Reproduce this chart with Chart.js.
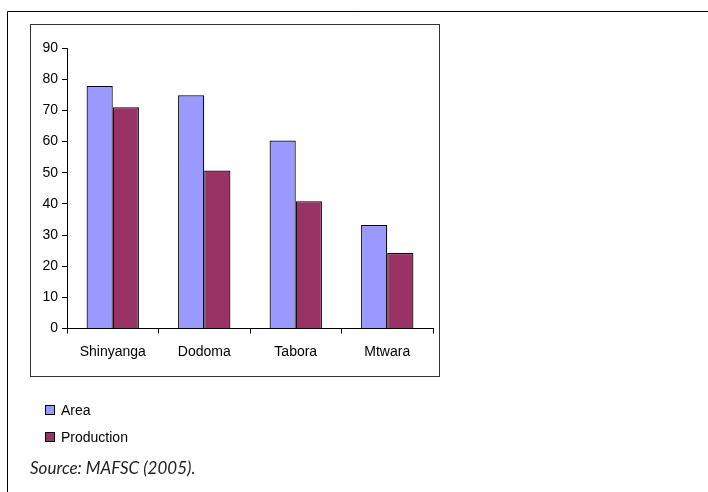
<!DOCTYPE html>
<html>
<head>
<meta charset="utf-8">
<script src="https://cdn.jsdelivr.net/npm/chart.js@4"></script>
<style>
  html, body { margin: 0; padding: 0; background: #fff; }
  #wrap { position: relative; width: 708px; height: 492px; }
  canvas { position: absolute; left: 0; top: 0; }
  .leg { position: absolute; left: 45px; font: 14px "Liberation Sans", Arial, sans-serif; color: #000; }
  .leg span { display: inline-block; width: 8px; height: 8px; border: 1px solid #000; margin-right: 6px; }
  #source { position: absolute; left: 30px; top: 457px; font: italic 17px "Lato", sans-serif; color: #222; }
</style>
</head>
<body>
<div id="wrap">
  <canvas id="chart" width="708" height="492"></canvas>
  <div class="leg" style="top:402px"><span style="background:#9999FF"></span>Area</div>
  <div class="leg" style="top:429px"><span style="background:#993366"></span>Production</div>
  <div id="source">Source: MAFSC (2005).</div>
</div>
<script>
const regions = ['Shinyanga', 'Dodoma', 'Tabora', 'Mtwara'];
const areaValues = [77.8, 74.8, 60.3, 33.2];
const productionValues = [71, 50.7, 40.8, 24.2];
const yTicks = [0, 10, 20, 30, 40, 50, 60, 70, 80, 90];

// frames around the plot and the figure
const frames = {
  id: 'frames',
  beforeDraw: (chart) => {
    const ctx = chart.ctx;
    ctx.save();
    ctx.strokeStyle = '#000';
    ctx.lineWidth = 1;
    // outer figure frame (top and left only)
    ctx.beginPath();
    ctx.moveTo(7.5, 492);
    ctx.lineTo(7.5, 11.5);
    ctx.lineTo(708, 11.5);
    ctx.stroke();
    // chart box
    ctx.strokeStyle = '#333';
    ctx.strokeRect(30.5, 24.5, 409, 352);
    ctx.restore();
  }
};

new Chart(document.getElementById('chart'), {
  type: 'bar',
  data: {
    labels: regions,
    datasets: [
      { label: 'Area', data: areaValues, backgroundColor: '#9999FF', borderColor: '#000', borderWidth: 1.2 },
      { label: 'Production', data: productionValues, backgroundColor: '#993366', borderColor: '#000', borderWidth: 1.2 }
    ]
  },
  options: {
    responsive: false,
    animation: false,
    layout: { padding: { left: 0, top: 48, right: 275, bottom: 0 } },
    datasets: { bar: { categoryPercentage: 0.572, barPercentage: 1 } },
    plugins: { legend: { display: false }, tooltip: { enabled: false } },
    scales: {
      x: {
        grid: { display: true, drawOnChartArea: false, offset: true, tickLength: 5, color: '#000' },
        border: { color: '#000' },
        ticks: { color: '#000', padding: 10, font: { family: '"Liberation Sans", Arial', size: 14 } },
        afterFit: (s) => { s.height = 492 - 328.5; }
      },
      y: {
        min: 0, max: 90,
        afterBuildTicks: (s) => { s.ticks = yTicks.map(v => ({ value: v })); },
        grid: { display: true, drawOnChartArea: false, tickLength: 5, color: '#000' },
        border: { color: '#000' },
        ticks: { color: '#000', padding: 4, font: { family: '"Liberation Sans", Arial', size: 14 } },
        afterFit: (s) => { s.width = 67; }
      }
    }
  },
  plugins: [frames]
});
</script>
</body>
</html>
